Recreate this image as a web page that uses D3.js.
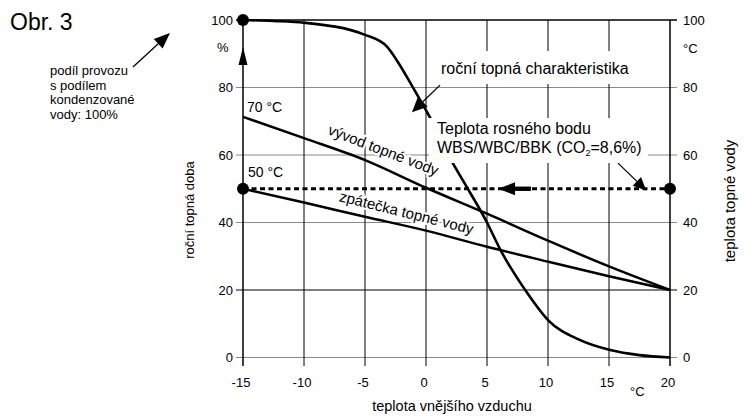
<!DOCTYPE html>
<html>
<head>
<meta charset="utf-8">
<script src="https://cdn.jsdelivr.net/npm/d3@7"></script>
<style>
  body { margin: 0; background: #fff; }
  svg { display: block; font-family: "Liberation Sans", Arial, Helvetica, sans-serif; }
</style>
</head>
<body>
<svg id="chart" width="749" height="416"></svg>
<script>
// data
var xTicks = [-15, -10, -5, 0, 5, 10, 15, 20];
var yTicks = [0, 20, 40, 60, 80, 100];

// rocni topna charakteristika
var charTemp = [-15, -12.5, -10, -5, -3.2, -2.4, -1.1, 0.3, 2.2, 3, 5, 6.1, 8.3, 10, 12.6, 15.1, 17.5, 20];
var charVal  = [100, 99.7, 99.2, 95.6, 92.1, 88.1, 80.2, 71.3, 57.6, 52.6, 40, 31.9, 19.1, 11.1, 5.2, 2.2, 0.7, 0];

// vyvod / zpatecka
var waterTemp = [-15, -10, -5, 0, 5, 10, 15, 20];
var flowVal   = [71.3, 65, 58.5, 50.3, 42.6, 34.6, 27, 20];
var returnVal = [50, 45.9, 41.7, 37.6, 32.8, 28.4, 24.1, 20];

var dewPoint = 50;

var svg = d3.select("#chart");

var x = d3.scaleLinear().domain([-15, 20]).range([243, 670]);
var y = d3.scaleLinear().domain([0, 100]).range([357.5, 20]);

var gridColor = { 0: "#8a8a8a", 20: "#000", 40: "#8a8a8a", 60: "#8a8a8a", 80: "#8a8a8a", 100: "#000" };

// horizontal lines with ticks
svg.selectAll("line.h").data(yTicks).enter().append("line")
  .attr("x1", x(-15) - 7).attr("x2", x(20) + 7)
  .attr("y1", function(d) { return y(d); }).attr("y2", function(d) { return y(d); })
  .attr("stroke", function(d) { return gridColor[d]; })
  .attr("stroke-width", function(d) { return d == 100 ? 1.5 : 1.2; });

// vertical lines with ticks
svg.selectAll("line.v").data(xTicks).enter().append("line")
  .attr("x1", function(d) { return x(d); }).attr("x2", function(d) { return x(d); })
  .attr("y1", y(100)).attr("y2", y(0) + 8.5)
  .attr("stroke", "#000")
  .attr("stroke-width", function(d) { return (d == -15 || d == 20) ? 1.5 : 1; });

// tick labels
var lab = svg.append("g").attr("font-size", 13).attr("fill", "#000");
lab.selectAll("text.l").data(yTicks).enter().append("text")
  .attr("x", 233).attr("y", function(d) { return y(d); }).attr("dy", "0.35em")
  .attr("text-anchor", "end").text(function(d) { return d; });
lab.selectAll("text.r").data(yTicks).enter().append("text")
  .attr("x", 683).attr("y", function(d) { return y(d); }).attr("dy", "0.35em")
  .text(function(d) { return d; });
lab.selectAll("text.b").data(xTicks).enter().append("text")
  .attr("x", function(d) { return x(d) - 2; }).attr("y", 386.5)
  .attr("text-anchor", "middle").text(function(d) { return d; });
lab.append("text").attr("x", 217).attr("y", 47).attr("dy", "0.35em").text("%");
lab.append("text").attr("x", 683).attr("y", 48).attr("dy", "0.35em").text("°C");
lab.append("text").attr("x", 630).attr("y", 395.5).text("°C");

// axis titles
svg.append("text").attr("font-size", 13)
  .attr("transform", "translate(194,210) rotate(-90)")
  .attr("text-anchor", "middle").text("roční topná doba");
svg.append("text").attr("font-size", 15)
  .attr("transform", "translate(735,201) rotate(-90)")
  .attr("text-anchor", "middle").text("teplota topné vody");
svg.append("text").attr("font-size", 14.5)
  .attr("x", 452).attr("y", 411)
  .attr("text-anchor", "middle").text("teplota vnějšího vzduchu");

// curves
var line = d3.line()
  .x(function(d) { return x(d[0]); })
  .y(function(d) { return y(d[1]); });

svg.append("path")
  .datum(d3.zip(charTemp, charVal))
  .attr("d", line.curve(d3.curveMonotoneX))
  .attr("fill", "none").attr("stroke", "#000").attr("stroke-width", 2.6);

svg.append("path")
  .datum(d3.zip(waterTemp, flowVal))
  .attr("d", line.curve(d3.curveMonotoneX))
  .attr("fill", "none").attr("stroke", "#000").attr("stroke-width", 2.5);

svg.append("path")
  .datum(d3.zip(waterTemp, returnVal))
  .attr("d", line.curve(d3.curveMonotoneX))
  .attr("fill", "none").attr("stroke", "#000").attr("stroke-width", 2.5);

// rosny bod - carkovana cara
svg.append("line")
  .attr("x1", x(-15)).attr("x2", x(20))
  .attr("y1", y(dewPoint)).attr("y2", y(dewPoint))
  .attr("stroke", "#000").attr("stroke-width", 3)
  .attr("stroke-dasharray", "5,3.5");

// body
svg.selectAll("circle").data([[-15, 100], [-15, dewPoint], [20, dewPoint]]).enter().append("circle")
  .attr("cx", function(d) { return x(d[0]); })
  .attr("cy", function(d) { return y(d[1]); })
  .attr("r", 6).attr("fill", "#000");

// bile pozadi popisku
svg.append("rect").attr("x", 436).attr("y", 51).attr("width", 198).attr("height", 33).attr("fill", "#fff");
svg.append("rect").attr("x", 429).attr("y", 118).attr("width", 219).attr("height", 45).attr("fill", "#fff");

svg.append("text").attr("font-size", 16).attr("x", 441).attr("y", 74).text("roční topná charakteristika");
var tep = svg.append("text").attr("font-size", 16);
tep.append("tspan").attr("x", 437).attr("y", 134).text("Teplota rosného bodu");
var l2 = tep.append("tspan").attr("x", 437).attr("y", 153);
l2.append("tspan").text("WBS/WBC/BBK (CO");
l2.append("tspan").attr("font-size", 9).attr("dy", 3).text("2");
l2.append("tspan").attr("dy", -3).text("=8,6%)");

// popisky u car (s bilym okrajem)
function halo(t) {
  t.attr("stroke", "#fff").attr("stroke-width", 4).attr("paint-order", "stroke").attr("fill", "#000");
}
svg.append("text").attr("font-size", 15)
  .attr("transform", "translate(327,134) rotate(21)")
  .text("vývod topné vody").call(halo);
svg.append("text").attr("font-size", 15)
  .attr("transform", "translate(338.5,201) rotate(14)")
  .text("zpátečka topné vody").call(halo);
svg.append("text").attr("font-size", 14).attr("x", 247).attr("y", 111.7).text("70 °C").call(halo);
svg.append("text").attr("font-size", 14).attr("x", 248).attr("y", 177.3).text("50 °C").call(halo);

// sipky
function arrow(x0, y0, x1, y1, len, w) {
  var dx = x1 - x0, dy = y1 - y0, d = Math.sqrt(dx * dx + dy * dy);
  var ux = dx / d, uy = dy / d;
  var bx = x1 - ux * len, by = y1 - uy * len;
  svg.append("line").attr("x1", x0).attr("y1", y0).attr("x2", bx).attr("y2", by)
    .attr("stroke", "#000").attr("stroke-width", 1.3);
  svg.append("path")
    .attr("d", "M" + x1 + "," + y1 + "L" + (bx - uy * w) + "," + (by + ux * w) + "L" + (bx + uy * w) + "," + (by - ux * w) + "Z")
    .attr("fill", "#000");
}
arrow(x(-15), y(86.7), x(-15), y(92), 18, 4.5);
arrow(x(1.15), y(80.7), x(-1.15), y(72.7), 15, 7);
arrow(x(15.74), y(57.6), x(18.05), y(49.5), 13, 6);
arrow(133, 67, 170, 33, 16, 6.5);

// velka sipka na care rosneho bodu
svg.append("rect").attr("x", x(7.2)).attr("y", y(dewPoint) - 2.2)
  .attr("width", x(8.6) - x(7.2)).attr("height", 4.4).attr("fill", "#000");
svg.append("path")
  .attr("d", "M" + x(5.9) + "," + y(dewPoint) + "L" + x(7.3) + "," + (y(dewPoint) - 6.5) + "L" + x(7.3) + "," + (y(dewPoint) + 6.5) + "Z")
  .attr("fill", "#000");

// Obr. 3 a poznamka
svg.append("text").attr("font-size", 23).attr("x", 10).attr("y", 30).text("Obr. 3");
var note = svg.append("text").attr("font-size", 13);
["podíl provozu", "s podílem", "kondenzované", "vody: 100%"].forEach(function(s, i) {
  note.append("tspan").attr("x", 50).attr("y", 75 + i * 14.5).text(s);
});
</script>
</body>
</html>
